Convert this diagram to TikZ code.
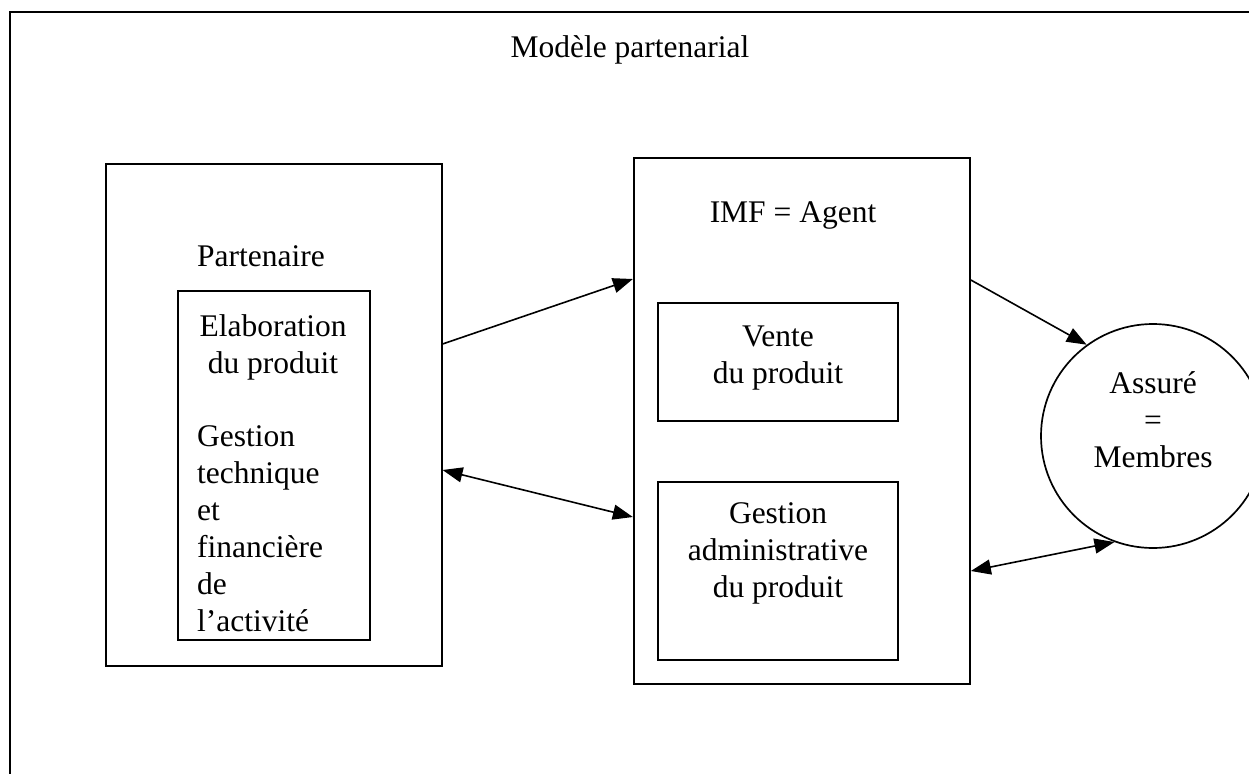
\documentclass[tikz,border=0pt]{standalone}
\usepackage{fontspec}
\setmainfont{Liberation Serif}
\usetikzlibrary{arrows.meta}

\begin{document}
\begin{tikzpicture}[x=1pt,y=-1pt,
  every node/.style={font=\fontsize{31.5}{37}\selectfont, inner sep=0pt},
  frame/.style={draw, line width=2.2pt},
  box/.style={draw, line width=1.7pt, rectangle},
  label/.style={anchor=base, align=center},
  leftlabel/.style={anchor=base west, align=left},
  arr/.style={line width=1.6pt, -{Triangle[length=20pt,width=15pt]}},
  darr/.style={line width=1.6pt, {Triangle[length=20pt,width=15pt]}-{Triangle[length=20pt,width=15pt]}}]

  % page size and clipping
  \useasboundingbox (0,0) rectangle (1249,773);
  \clip (0,0) rectangle (1249,773);

  % outer frame (runs off the right and bottom edges)
  \draw[frame] (10,12) rectangle (1280,800);
  \node[label] (title) at (630,58) {Modèle partenarial};

  % partner block (multi-line labels are placed by their last baseline)
  \node[box, minimum width=336pt, minimum height=502pt] (partner) at (273.7,414.7) {};
  \node[leftlabel] (partnerlbl) at (197,266) {Partenaire};
  \node[box, minimum width=192.3pt, minimum height=348.7pt] (tasks) at (273.85,465.35) {};
  \node[label] (elab) at (273,373) {Elaboration\\du produit};
  \node[leftlabel] (gest) at (197,631) {Gestion\\technique\\et\\financière\\de\\l’activité};

  % agent block
  \node[box, minimum width=336.3pt, minimum height=525.7pt] (agent) at (801.85,420.85) {};
  \node[label] (agentlbl) at (793,222) {IMF = Agent};
  \node[box, minimum width=240.6pt, minimum height=118.4pt] (vente) at (778,362) {};
  \node[label] (ventelbl) at (778,383) {Vente\\du produit};
  \node[box, minimum width=240.6pt, minimum height=178pt] (admin) at (778,571) {};
  \node[label] (adminlbl) at (778,597) {Gestion\\administrative\\du produit};

  % insured members
  \node[draw, line width=1.7pt, circle, minimum size=224pt] (client) at (1153,436) {};
  \node[label] (clientlbl) at (1153,467) {Assuré\\=\\Membres};

  % flows
  \draw[arr]  (partner.east |- 0,344) -- (agent.west |- 0,279);
  \draw[darr] (partner.east |- 0,470) -- (agent.west |- 0,517);
  \draw[arr]  (agent.east |- 0,280) -- (client.126);
  \draw[darr] (agent.east |- 0,571) -- (client.250);
\end{tikzpicture}
\end{document}
